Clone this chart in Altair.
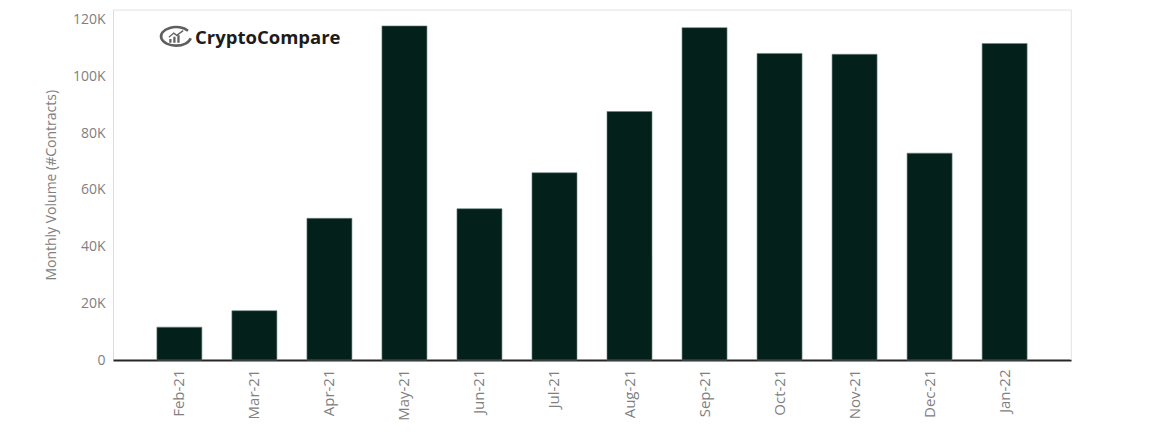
import altair as alt
import pandas as pd

months = ["Feb-21", "Mar-21", "Apr-21", "May-21", "Jun-21", "Jul-21",
          "Aug-21", "Sep-21", "Oct-21", "Nov-21", "Dec-21", "Jan-22"]
volumes = [11600, 17400, 50000, 117900, 53400, 66100,
           87700, 117300, 108200, 107900, 73000, 111700]
y_ticks = [0, 20000, 40000, 60000, 80000, 100000, 120000]

df = pd.DataFrame({"month": months, "volume": volumes})

FONT = "Open Sans"
GRAY = "#808080"
W, H = 958, 350.5

bars = alt.Chart(df).mark_bar(
    color="#03201b", stroke="#6b8580", strokeWidth=0.6
).encode(
    x=alt.X("month:N", sort=months, title=None,
            scale=alt.Scale(paddingInner=0.4, paddingOuter=0.585),
            axis=alt.Axis(labelAngle=-90, labelAlign="right", labelBaseline="middle",
                          labelPadding=9, ticks=False, domainColor="#262626",
                          domainWidth=1.8, labelColor=GRAY, labelFont=FONT,
                          labelFontSize=15)),
    y=alt.Y("volume:Q", title="Monthly Volume (#Contracts)",
            scale=alt.Scale(domain=[0, 123700], nice=False),
            axis=alt.Axis(values=y_ticks, ticks=False, domain=False, grid=False,
                          labelExpr="datum.value == 0 ? '0' : (datum.value / 1000) + 'K'",
                          labelPadding=8, labelColor=GRAY, labelFont=FONT,
                          labelFontSize=14, titleColor=GRAY, titleFont=FONT,
                          titleFontSize=14, titleFontWeight="normal",
                          titlePadding=14))
)

logo_df = pd.DataFrame({"t": ["CryptoCompare"]})

logo_text = alt.Chart(logo_df).mark_text(
    font=FONT, fontSize=18.5, fontWeight="bold", color="#1c1c1c",
    align="left", baseline="middle"
).encode(x=alt.value(82), y=alt.value(28), text="t:N")

ring = alt.Chart(logo_df).mark_point(
    shape="M 0.8 -0.45 A 1 0.62 0 1 0 0.98 0.05",
    filled=False, stroke="#1c1c1c", strokeWidth=2.6, size=900
).encode(x=alt.value(63), y=alt.value(28))

icon_bars = alt.Chart(logo_df).mark_point(
    shape=("M -0.45 0.35 L -0.45 0.1 L -0.3 0.1 L -0.3 0.35 Z "
           "M -0.18 0.35 L -0.18 -0.05 L -0.03 -0.05 L -0.03 0.35 Z "
           "M 0.09 0.35 L 0.09 -0.15 L 0.24 -0.15 L 0.24 0.35 Z "
           "M -0.5 -0.05 L -0.15 -0.35 L 0.05 -0.2 L 0.45 -0.5 L 0.5 -0.42 L 0.05 -0.08 L -0.15 -0.23 L -0.45 0.02 Z"),
    filled=True, color="#1c1c1c", size=900
).encode(x=alt.value(63), y=alt.value(28))

top_rule = alt.Chart(logo_df).mark_rule(color="#f3f3f3", strokeWidth=1).encode(
    x=alt.value(0), x2=alt.value(W), y=alt.value(0))
right_rule = alt.Chart(logo_df).mark_rule(color="#f3f3f3", strokeWidth=1).encode(
    x=alt.value(W), y=alt.value(0), y2=alt.value(H))

chart = alt.layer(top_rule, right_rule, bars, ring, icon_bars, logo_text).properties(
    width=W, height=H,
    autosize=alt.AutoSizeParams(type="none"),
    padding={"left": 105, "top": 1.5, "right": 5, "bottom": 75}
).configure_view(strokeWidth=0).configure(background="white")

chart.save("out.html", embed_options={"renderer": "svg", "actions": False})
